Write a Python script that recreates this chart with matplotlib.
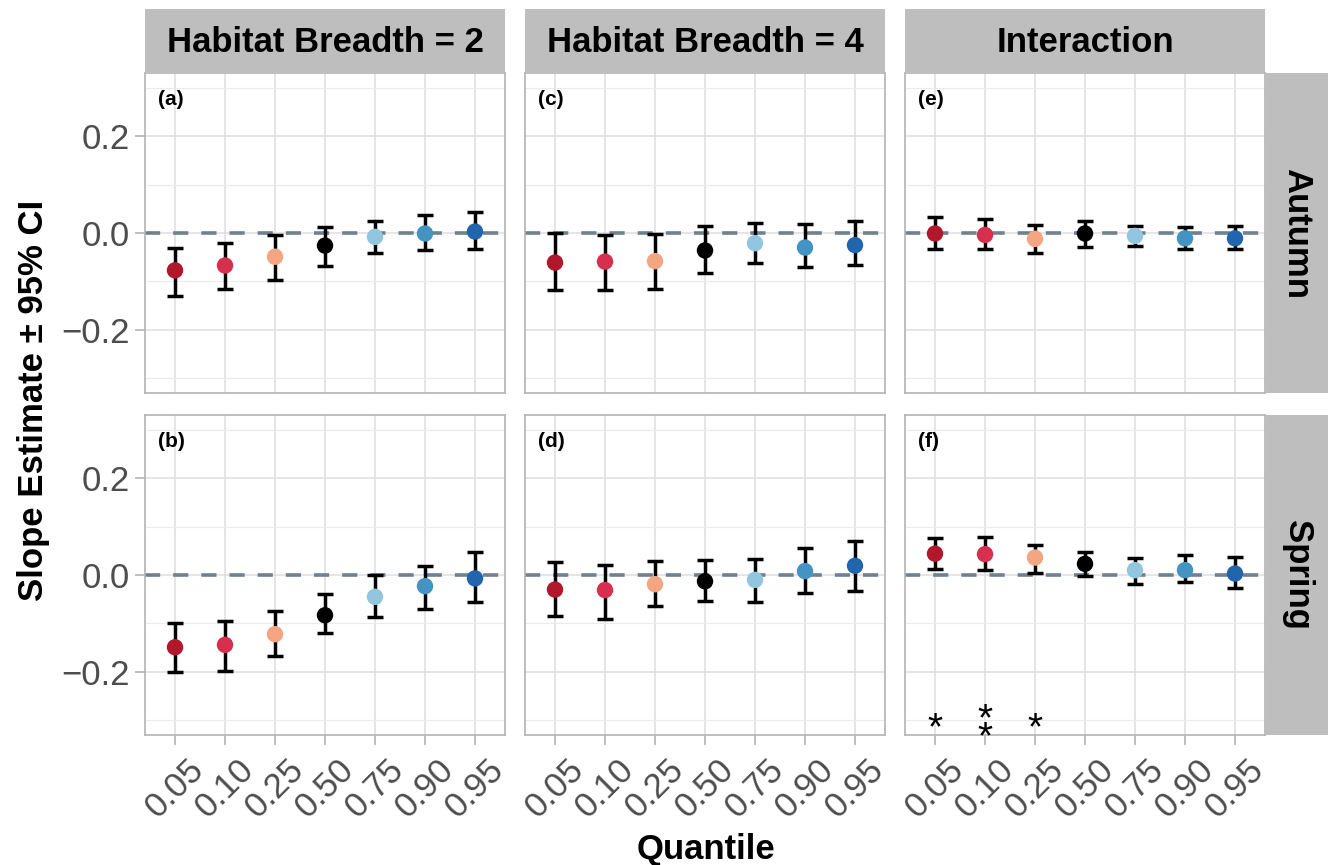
import matplotlib
matplotlib.use("Agg")
import matplotlib.pyplot as plt
from matplotlib.ticker import FixedLocator

plt.rcParams['font.family'] = ['Liberation Sans', 'DejaVu Sans']

quantiles = ["0.05", "0.10", "0.25", "0.50", "0.75", "0.90", "0.95"]
col_titles = ["Habitat Breadth = 2", "Habitat Breadth = 4", "Interaction"]
row_titles = ["Autumn", "Spring"]
panel_tags = [["(a)", "(c)", "(e)"], ["(b)", "(d)", "(f)"]]
point_colors = ["#B2182B", "#D6304E", "#F4A582", "#000000", "#92C5DE", "#4393C3", "#2166AC"]

# Autumn slope estimates with 95% CI
autumn_hb2_est = [-0.077, -0.067, -0.049, -0.026, -0.008, -0.001, 0.003]
autumn_hb2_lo = [-0.130, -0.115, -0.096, -0.069, -0.041, -0.036, -0.033]
autumn_hb2_hi = [-0.030, -0.021, -0.004, 0.012, 0.024, 0.037, 0.044]

autumn_hb4_est = [-0.061, -0.059, -0.058, -0.036, -0.021, -0.030, -0.025]
autumn_hb4_lo = [-0.118, -0.117, -0.115, -0.082, -0.061, -0.070, -0.066]
autumn_hb4_hi = [0.001, -0.004, -0.003, 0.014, 0.021, 0.019, 0.025]

autumn_int_est = [-0.001, -0.004, -0.012, -0.001, -0.006, -0.011, -0.011]
autumn_int_lo = [-0.032, -0.034, -0.042, -0.028, -0.027, -0.033, -0.033]
autumn_int_hi = [0.034, 0.029, 0.017, 0.025, 0.014, 0.012, 0.015]

# Spring slope estimates with 95% CI
spring_hb2_est = [-0.149, -0.144, -0.122, -0.083, -0.045, -0.023, -0.007]
spring_hb2_lo = [-0.201, -0.197, -0.167, -0.120, -0.087, -0.070, -0.056]
spring_hb2_hi = [-0.099, -0.095, -0.074, -0.039, -0.001, 0.019, 0.047]

spring_hb4_est = [-0.030, -0.031, -0.019, -0.013, -0.010, 0.008, 0.019]
spring_hb4_lo = [-0.085, -0.090, -0.064, -0.054, -0.056, -0.038, -0.032]
spring_hb4_hi = [0.027, 0.020, 0.029, 0.030, 0.034, 0.056, 0.071]

spring_int_est = [0.044, 0.043, 0.036, 0.023, 0.010, 0.010, 0.003]
spring_int_lo = [0.012, 0.011, 0.005, -0.002, -0.019, -0.014, -0.027]
spring_int_hi = [0.076, 0.078, 0.061, 0.047, 0.036, 0.041, 0.037]

# significance of the spring interaction
spring_int_signif = ["*", "*\n*", "*", "", "", "", ""]

panels = [
    [(autumn_hb2_est, autumn_hb2_lo, autumn_hb2_hi),
     (autumn_hb4_est, autumn_hb4_lo, autumn_hb4_hi),
     (autumn_int_est, autumn_int_lo, autumn_int_hi)],
    [(spring_hb2_est, spring_hb2_lo, spring_hb2_hi),
     (spring_hb4_est, spring_hb4_lo, spring_hb4_hi),
     (spring_int_est, spring_int_lo, spring_int_hi)],
]

W, H = 1328, 865
fig = plt.figure(figsize=(W / 100, H / 100), dpi=100)

col_x = [145, 525, 905]
pw = 360
row_y = [73, 415]
ph = 320
strip_h = 64
strip_w = 62


def px_rect(x, y, w, h):
    return [x / W, 1 - (y + h) / H, w / W, h / H]


border = "#B3B3B3"
strip_fill = "#BEBEBE"
xs = list(range(len(quantiles)))

for r in range(2):
    for c in range(3):
        ax = fig.add_axes(px_rect(col_x[c], row_y[r], pw, ph))
        est, lo, hi = panels[r][c]
        ax.set_xlim(-0.6, 6.6)
        ax.set_ylim(-0.33, 0.33)
        ax.yaxis.set_major_locator(FixedLocator([-0.2, 0.0, 0.2]))
        ax.yaxis.set_minor_locator(FixedLocator([-0.3, -0.1, 0.1, 0.3]))
        ax.set_xticks(xs)
        ax.grid(which='major', color='#DEDEDE', lw=1.1, zorder=0)
        ax.grid(which='minor', axis='y', color='#EBEBEB', lw=0.8, zorder=0)
        ax.set_axisbelow(True)
        for sp in ax.spines.values():
            sp.set_color(border)
            sp.set_linewidth(1.2)

        ax.axhline(0, color='#708090', lw=2.6, dashes=(4.2, 3.6), zorder=1)
        yerr = [[e - l for e, l in zip(est, lo)], [h - e for e, h in zip(est, hi)]]
        ax.errorbar(xs, est, yerr=yerr, fmt='none', ecolor='black', elinewidth=2.5,
                    capsize=5.5, capthick=2.5, zorder=2)
        ax.scatter(xs, est, s=140, c=point_colors, edgecolors='none', zorder=3)

        ax.text(0.036, 0.947, panel_tags[r][c], transform=ax.transAxes, fontsize=15,
                fontweight='bold', ha='left', va='top')

        ax.tick_params(which='both', length=0)
        ax.tick_params(which='major', color=border, width=1.2)
        if c == 0:
            ax.tick_params(axis='y', which='major', length=7, labelsize=25,
                           labelcolor='#4D4D4D', pad=4)
            ax.set_yticklabels(["\u22120.2", "0.0", "0.2"])
        else:
            ax.set_yticklabels([])
        if r == 1:
            ax.tick_params(axis='x', length=7, labelsize=25, labelcolor='#4D4D4D', pad=6)
            ax.set_xticklabels(quantiles, rotation=45, ha='center', va='top')
        else:
            ax.set_xticklabels([])

        if r == 1 and c == 2:
            for x, s in zip(xs, spring_int_signif):
                if s:
                    ax.text(x, -0.318, s, ha='center', va='center', fontsize=28,
                            linespacing=0.38, zorder=4)

# column strips
for c in range(3):
    sax = fig.add_axes(px_rect(col_x[c], row_y[0] - strip_h, pw, strip_h))
    sax.set_facecolor(strip_fill)
    sax.set_xticks([])
    sax.set_yticks([])
    for sp in sax.spines.values():
        sp.set_visible(False)
    sax.text(0.5, 0.48, col_titles[c], transform=sax.transAxes, ha='center', va='center',
             fontsize=25, fontweight='bold')

# row strips
for r in range(2):
    sax = fig.add_axes(px_rect(col_x[2] + pw + 1, row_y[r], strip_w, ph))
    sax.set_facecolor(strip_fill)
    sax.set_xticks([])
    sax.set_yticks([])
    for sp in sax.spines.values():
        sp.set_visible(False)
    sax.text(0.5, 0.5, row_titles[r], transform=sax.transAxes, ha='center', va='center',
             fontsize=25, fontweight='bold', rotation=-90)

fig.text(34 / W, 1 - 400 / H, "Slope Estimate \u00b1 95% CI", rotation=90, ha='center',
         va='center', fontsize=25, fontweight='bold')
fig.text(706 / W, 1 - 849 / H, "Quantile", ha='center', va='center', fontsize=25,
         fontweight='bold')

fig.savefig("out.png", dpi=100, facecolor='white')
